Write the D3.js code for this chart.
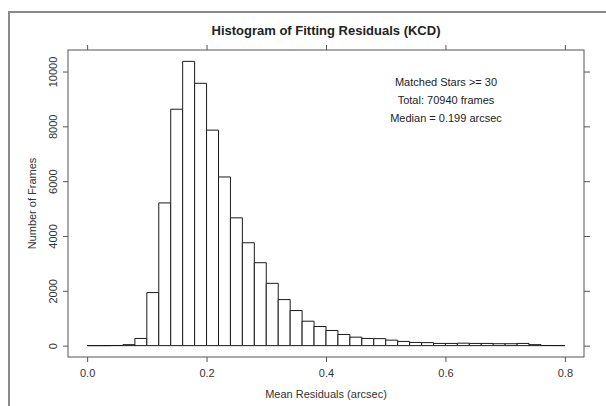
<!DOCTYPE html>
<html>
<head>
<meta charset="utf-8">
<script src="https://cdn.jsdelivr.net/npm/d3@7"></script>
<style>
  body { margin: 0; background: #fff; overflow: hidden; }
  svg { display: block; }
  svg text { font-family: "Liberation Sans", Arial, Helvetica, sans-serif; }
</style>
</head>
<body>
<div id="chart"></div>
<script>
// histogram bins (lower edge, arcsec) and frame counts
var binLo = [0.00, 0.02, 0.04, 0.06, 0.08, 0.10, 0.12, 0.14, 0.16, 0.18,
             0.20, 0.22, 0.24, 0.26, 0.28, 0.30, 0.32, 0.34, 0.36, 0.38,
             0.40, 0.42, 0.44, 0.46, 0.48, 0.50, 0.52, 0.54, 0.56, 0.58,
             0.60, 0.62, 0.64, 0.66, 0.68, 0.70, 0.72, 0.74, 0.76, 0.78];
var counts = [0, 0, 5, 35, 262, 1935, 5207, 8625, 10371, 9571,
              7862, 6153, 4662, 3753, 3025, 2273, 1680, 1280, 891, 698,
              553, 407, 309, 262, 255, 200, 153, 116, 110, 80,
              80, 90, 80, 80, 70, 70, 80, 36, 5, 3];
var binWidth = 0.02;
var xTicks = [0.0, 0.2, 0.4, 0.6, 0.8];
var yTicks = [0, 2000, 4000, 6000, 8000, 10000];
var notes = ["Matched Stars >= 30", "Total: 70940 frames", "Median = 0.199 arcsec"];

var W = 606, H = 406;
var box = { left: 68, right: 584, top: 50, bottom: 357 };

var svg = d3.select("#chart")
    .append("svg")
    .attr("width", W)
    .attr("height", H);

// outer frame (runs off the page to the right and bottom)
svg.append("rect")
    .attr("x", 9).attr("y", 12)
    .attr("width", 640).attr("height", 440)
    .attr("fill", "none")
    .attr("stroke", "#8a8a8a")
    .attr("stroke-width", 2);

// R-style scales: 4% padding on each side
var xMin = 0, xMax = 0.8;
var x = d3.scaleLinear()
    .domain([xMin - 0.04 * (xMax - xMin), xMax + 0.04 * (xMax - xMin)])
    .range([box.left, box.right]);

var yMax = d3.max(counts);
var y = d3.scaleLinear()
    .domain([-0.04 * yMax, 1.04 * yMax])
    .range([box.bottom, box.top]);

// bars (paths so that empty bins still show as a line)
svg.append("g")
    .selectAll("path")
    .data(counts)
    .enter()
    .append("path")
    .attr("d", (d, i) => {
        var x0 = x(binLo[i]), x1 = x(binLo[i] + binWidth);
        var y0 = y(0), y1 = y(d);
        return "M" + x0 + "," + y0 + "V" + y1 + "H" + x1 + "V" + y0 + "Z";
    })
    .attr("fill", "#fff")
    .attr("stroke", "#1a1a1a")
    .attr("stroke-width", 1);

// plot box
svg.append("rect")
    .attr("x", box.left).attr("y", box.top)
    .attr("width", box.right - box.left)
    .attr("height", box.bottom - box.top)
    .attr("fill", "none")
    .attr("stroke", "#555")
    .attr("stroke-width", 1);

function styleAxis(g) {
    g.attr("font-family", null).attr("font-size", null);
    g.select(".domain").remove();
    g.selectAll("line").attr("stroke", "#555");
    g.selectAll("text")
        .attr("fill", "#333")
        .style("font-size", "11px");
}

// bottom axis
svg.append("g")
    .attr("transform", "translate(0," + box.bottom + ")")
    .call(d3.axisBottom(x).tickValues(xTicks).tickFormat(d3.format(".1f")).tickSize(5).tickPadding(7))
    .call(styleAxis);

// top axis (ticks only)
svg.append("g")
    .attr("transform", "translate(0," + box.top + ")")
    .call(d3.axisTop(x).tickValues(xTicks).tickFormat("").tickSize(5))
    .call(styleAxis);

// left axis, labels rotated
svg.append("g")
    .attr("transform", "translate(" + box.left + ",0)")
    .call(d3.axisLeft(y).tickValues(yTicks).tickFormat(d3.format("d")).tickSize(5))
    .call(styleAxis)
    .selectAll("text")
    .attr("transform", "rotate(-90)")
    .attr("text-anchor", "middle")
    .attr("x", 0)
    .attr("y", -11)
    .attr("dy", 0);

// right axis (ticks only)
svg.append("g")
    .attr("transform", "translate(" + box.right + ",0)")
    .call(d3.axisRight(y).tickValues(yTicks).tickFormat("").tickSize(6))
    .call(styleAxis);

// title
svg.append("text")
    .attr("x", (box.left + box.right) / 2)
    .attr("y", 35)
    .attr("text-anchor", "middle")
    .style("font-size", "13px")
    .style("font-weight", "bold")
    .attr("fill", "#222")
    .text("Histogram of Fitting Residuals (KCD)");

// axis titles
svg.append("text")
    .attr("x", (box.left + box.right) / 2)
    .attr("y", 398)
    .attr("text-anchor", "middle")
    .style("font-size", "11px")
    .attr("fill", "#333")
    .text("Mean Residuals (arcsec)");

svg.append("text")
    .attr("transform", "rotate(-90)")
    .attr("x", -(box.top + box.bottom) / 2)
    .attr("y", 36)
    .attr("text-anchor", "middle")
    .style("font-size", "11px")
    .attr("fill", "#333")
    .text("Number of Frames");

// annotation
svg.append("g")
    .selectAll("text")
    .data(notes)
    .enter()
    .append("text")
    .attr("x", 446)
    .attr("y", (d, i) => 86 + i * 18)
    .attr("text-anchor", "middle")
    .style("font-size", "11px")
    .attr("fill", "#222")
    .text(d => d);
</script>
</body>
</html>
